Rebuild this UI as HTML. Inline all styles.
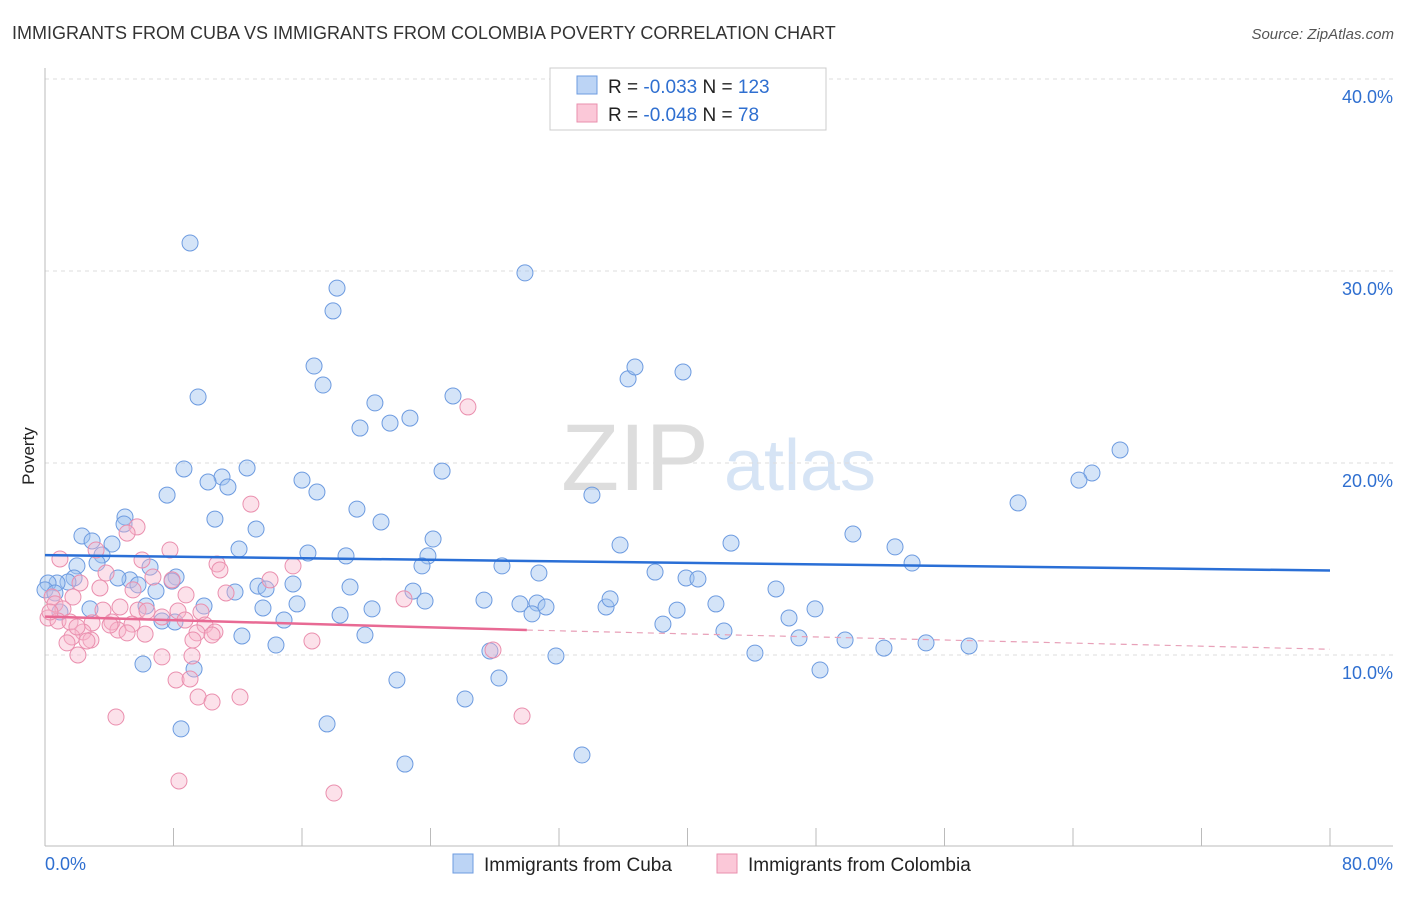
<!DOCTYPE html>
<html><head><meta charset="utf-8"><style>
body{margin:0;background:#fff;font-family:"Liberation Sans",sans-serif;}
svg text{font-family:"Liberation Sans",sans-serif;}
</style></head><body>
<svg id="c" width="1406" height="892">
<text x="12" y="39" font-size="18" fill="#333">IMMIGRANTS FROM CUBA VS IMMIGRANTS FROM COLOMBIA POVERTY CORRELATION CHART</text>
<text x="1394" y="39" font-size="15" fill="#555" font-style="italic" text-anchor="end">Source: ZipAtlas.com</text>
<text x="34" y="456" font-size="17" fill="#222" transform="rotate(-90 34 456)" text-anchor="middle">Poverty</text>
<text x="635" y="490" font-size="95" fill="#ddd" text-anchor="middle" font-family="Liberation Serif">ZIP</text>
<text x="800" y="490" font-size="72" fill="#d6e4f5" text-anchor="middle">atlas</text>
<g id="grid"></g><g id="pts"></g><g id="trend"></g>
<g>
<rect x="550" y="68" width="276" height="62" fill="#fff" stroke="#ccc"/>
<rect x="577" y="76" width="20" height="18" fill="#bcd4f5" stroke="#6d9be0"/>
<rect x="577" y="104" width="20" height="18" fill="#fbc8d8" stroke="#ea8fae"/>
<text x="608" y="93" font-size="19" fill="#222">R = <tspan fill="#2f6fd0">-0.033</tspan>   N = <tspan fill="#2f6fd0">123</tspan></text>
<text x="608" y="121" font-size="19" fill="#222">R = <tspan fill="#2f6fd0">-0.048</tspan>   N =  <tspan fill="#2f6fd0"> 78</tspan></text>
</g>
<g>
<rect x="453" y="854" width="20" height="19" fill="#bcd4f5" stroke="#6d9be0"/>
<text x="484" y="871" font-size="19" fill="#222">Immigrants from Cuba</text>
<rect x="717" y="854" width="20" height="19" fill="#fbc8d8" stroke="#ea8fae"/>
<text x="748" y="871" font-size="19" fill="#222">Immigrants from Colombia</text>
</g>
<text x="45" y="870" font-size="18" fill="#2f6fd0">0.0%</text>
<text x="1393" y="870" font-size="18" fill="#2f6fd0" text-anchor="end">80.0%</text>
</svg>
<script>
const yTicks=[10,20,30,40];
const yTickLabels=["10.0%","20.0%","30.0%","40.0%"];
const cubaPx=[[190,243],[525,273],[337,288],[333,311],[314,366],[323,385],[198,397],[375,403],[360,428],[390,423],[410,418],[453,396],[628,379],[635,367],[683,372],[1120,450],[1092,473],[1079,480],[1018,503],[184,469],[247,468],[222,477],[208,482],[228,487],[302,480],[317,492],[442,471],[167,495],[592,495],[357,509],[381,522],[215,519],[125,517],[124,524],[256,529],[82,536],[92,541],[112,544],[239,549],[308,553],[346,556],[433,539],[428,556],[422,566],[620,545],[731,543],[853,534],[895,547],[912,563],[102,555],[97,563],[150,567],[502,566],[539,573],[655,572],[686,578],[698,579],[776,589],[77,566],[74,578],[68,582],[57,583],[48,583],[45,590],[55,593],[130,580],[138,585],[118,578],[176,577],[172,581],[156,591],[235,592],[258,586],[266,589],[293,584],[350,587],[413,591],[425,601],[484,600],[520,604],[537,603],[546,607],[606,607],[610,599],[677,610],[716,604],[815,609],[789,618],[263,608],[297,604],[372,609],[204,606],[146,606],[90,609],[60,612],[162,621],[175,622],[284,620],[340,615],[532,614],[663,624],[724,631],[799,638],[845,640],[884,648],[926,643],[969,646],[755,653],[242,636],[276,645],[365,635],[490,651],[556,656],[143,664],[194,669],[397,680],[499,678],[820,670],[465,699],[181,729],[327,724],[405,764],[582,755]];
const colPx=[[468,407],[251,504],[137,527],[127,533],[170,550],[96,550],[60,559],[142,560],[217,564],[220,570],[293,566],[106,573],[153,577],[172,580],[270,580],[80,583],[100,588],[133,590],[186,595],[73,597],[52,597],[55,604],[63,609],[103,610],[120,607],[138,610],[147,611],[178,611],[201,612],[226,593],[404,599],[48,618],[58,621],[70,622],[92,623],[112,622],[132,624],[162,617],[185,620],[205,625],[215,632],[83,632],[72,637],[91,640],[118,630],[127,633],[197,633],[212,635],[145,634],[193,640],[77,627],[67,643],[87,641],[312,641],[493,650],[78,655],[162,657],[192,656],[176,680],[190,679],[198,697],[212,702],[240,697],[116,717],[522,716],[179,781],[334,793],[50,612],[110,625]];
// data arrays in value space (x %, y %)
const cubaX=cubaPx.map(p=>+((p[0]-45)/1285*80).toFixed(2));
const cubaY=cubaPx.map(p=>+((847-p[1])/19.2).toFixed(2));
const colX=colPx.map(p=>+((p[0]-45)/1285*80).toFixed(2));
const colY=colPx.map(p=>+((847-p[1])/19.2).toFixed(2));
const cubaTrend=[15.2,14.4];
const colTrend=[12.0,11.3,10.3];
const NS="http://www.w3.org/2000/svg";
const sx=v=>45+v/80*1285, sy=v=>847-v*19.2;
function mk(t,a,p){const e=document.createElementNS(NS,t);for(const k in a)e.setAttribute(k,a[k]);p.appendChild(e);return e;}
const grid=document.getElementById('grid');
yTicks.forEach((t,i)=>{
 const l=mk('line',{x1:45,x2:1393,y1:sy(t),y2:sy(t),stroke:'#ddd','stroke-dasharray':'4,4'},grid);
 
 
 const tx=mk('text',{x:1393,y:sy(t)+24,'font-size':18,fill:'#2f6fd0','text-anchor':'end'},grid);
 tx.textContent=yTickLabels[i];
 
 
});
const ax=mk('line',{x1:45,x2:45,y1:68,y2:846,stroke:'#bbb'},grid);


const bx=mk('line',{x1:45,x2:1393,y1:846,y2:846,stroke:'#bbb'},grid);


for(let i=0;i<=10;i++){const t=mk('line',{x1:sx(i*8),x2:sx(i*8),y1:828,y2:846,stroke:'#bbb'},grid);
 
 }
const pts=document.getElementById('pts');
cubaX.forEach((x,i)=>{const c=mk('circle',{cx:sx(x),cy:sy(cubaY[i]),r:8,fill:'rgba(160,196,240,0.45)',stroke:'#6d9be0','stroke-width':1},pts);
 
 });
colX.forEach((x,i)=>{const c=mk('circle',{cx:sx(x),cy:sy(colY[i]),r:8,fill:'rgba(248,180,202,0.4)',stroke:'#ea8fae','stroke-width':1},pts);
 
 });
const tr=document.getElementById('trend');
const t1=mk('line',{x1:sx(0),y1:sy(cubaTrend[0]),x2:sx(80),y2:sy(cubaTrend[1]),stroke:'#2a6fd6','stroke-width':2.5},tr);


const t2=mk('line',{x1:sx(0),y1:sy(colTrend[0]),x2:sx(30),y2:sy(colTrend[1]),stroke:'#e86a94','stroke-width':2.5},tr);


const t3=mk('line',{x1:sx(30),y1:sy(colTrend[1]),x2:sx(80),y2:sy(colTrend[2]),stroke:'#e8a0b8','stroke-width':1.2,'stroke-dasharray':'6,5'},tr);


</script>
</body></html>
